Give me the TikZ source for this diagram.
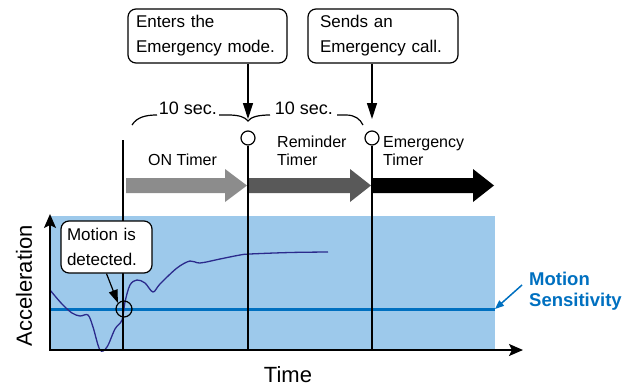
\documentclass[tikz,border=0pt]{standalone}
\usepackage{fontspec}
\setmainfont{Liberation Sans}
\usetikzlibrary{arrows.meta}
\definecolor{bgblue}{HTML}{9DC9EB}
\definecolor{senseblue}{HTML}{0070C0}
\definecolor{curvecol}{HTML}{2B2A8C}
\definecolor{grayA}{HTML}{8C8C8C}
\definecolor{grayB}{HTML}{595959}
\begin{document}
\begin{tikzpicture}[x=1pt,y=-1pt,
  callout/.style={draw, line width=1.2pt, rounded corners=8pt, fill=white, align=left,
    font=\fontsize{17}{25}\selectfont, inner ysep=0pt},
  ring/.style={draw, circle, line width=1.2pt, inner sep=0pt, minimum size=14pt},
  timerlbl/.style={font=\fontsize{16}{18}\selectfont, align=left, inner sep=0pt},
  marker/.style={line width=1.3pt},
  pointer/.style={line width=1.2pt, -{Triangle[length=16pt,width=10pt]}},
  axis/.style={line width=1.8pt},
]
\useasboundingbox (0,0) rectangle (638,388);
% background
\fill[bgblue] (50,216) rectangle (495,350);
% sensitivity line
\coordinate (s0) at (50,309);
\coordinate (s1) at (495,309);
\draw[senseblue, line width=3pt] (s0) -- (s1);
% acceleration curve
\draw[curvecol, line width=1.3pt] plot[smooth, tension=0.55] coordinates {
 (50,290) (62,304) (72,313) (80,316) (88,315) (93,327) (100,350) (107,347) (115,329)
 (122,320) (125,302) (130,285) (137,280) (145,283) (153,292) (160,284) (177,268)
 (190,261) (200,263) (220,259) (240,255) (250,254) (290,252.5) (328,252)};
% timer arrows
\fill[grayA] (126,178) -- (225,178) -- (225,169) -- (247,185.5) -- (225,202) -- (225,193) -- (126,193) -- cycle;
\fill[grayB] (249,178) -- (350,178) -- (350,169) -- (371,185.5) -- (350,202) -- (350,193) -- (249,193) -- cycle;
\fill[black] (373,178) -- (473,178) -- (473,169) -- (494,185.5) -- (473,202) -- (473,193) -- (373,193) -- cycle;
% axes
\coordinate (O) at (50,350);
\coordinate (xend) at (523,350);
\coordinate (yend) at (50,214);
\draw[axis, {Stealth[length=14pt,width=12pt,inset=3pt]}-{Stealth[length=14pt,width=12pt,inset=3pt]}] (yend) -- (O) -- (xend);
% markers
\coordinate (t0) at (123,140);
\node[ring] (c1) at (248,138) {};
\node[ring] (c2) at (372,138) {};
\draw[marker] (t0) -- (t0 |- O);
\draw[marker] (c1.south) -- (c1.south |- O);
\draw[marker] (c2.south) -- (c2.south |- O);
% braces
\node[font=\fontsize{18}{20}\selectfont, inner sep=0pt, anchor=base] (b1) at (188,114) {10 sec.};
\node[font=\fontsize{18}{20}\selectfont, inner sep=0pt, anchor=base] (b2) at (304,114) {10 sec.};
\draw[line width=1.2pt] (132,125) .. controls (137,117) and (146,115) .. (157,115);
\draw[line width=1.2pt] (219,115) -- (228,115) .. controls (239,115) and (245,117) .. (248,121)
  .. controls (251,117) and (258,115) .. (270,115);
\draw[line width=1.2pt] (337,115) -- (346,115) .. controls (355,115) and (360,119) .. (363,125);
% timer labels
\node[timerlbl, anchor=base] (lon) at (182.5,165) {ON Timer};
\node[timerlbl, anchor=base west] (lrem) at (277,165) {Reminder\\Timer};
\node[timerlbl, anchor=base west] (lemg) at (383,165) {Emergency\\Timer};
% callouts
\node[callout, text width=143pt, inner xsep=8pt, minimum height=54pt] (box1) at (207.5,36) {Enters the\\Emergency mode.};
\node[callout, text width=126pt, inner xsep=12pt, minimum height=54pt] (box2) at (383,36) {Sends an\\Emergency call.};
\draw[pointer] (box1.south -| c1) -- (248,119);
\draw[pointer] (box2.south -| c2) -- (372,119);
% motion detected
\node[ring, minimum size=16pt] (mc) at (124,309) {};
\node[callout, text width=79pt, inner xsep=6pt, minimum height=52pt] (box3) at (106.5,247) {Motion is\\detected.};
\draw[line width=1.2pt, -{Triangle[length=13pt,width=9pt]}] (box3.south) -- (mc.north west);
% sensitivity label
\node[font=\bfseries\fontsize{18.5}{21}\selectfont, text=senseblue, align=left, inner sep=0pt, anchor=base west] (sl) at (529,306) {Motion\\Sensitivity};
\coordinate (sa) at (522,285);
\draw[senseblue, line width=1.5pt, -{Triangle[length=9pt,width=7pt]}] (sa) -- (s1);
% axis labels
\node[font=\fontsize{22}{24}\selectfont, rotate=90] (ylab) at (24,286) {Acceleration};
\node[font=\fontsize{22}{24}\selectfont, anchor=base] (xlab) at (288,382) {Time};
\end{tikzpicture}
\end{document}
